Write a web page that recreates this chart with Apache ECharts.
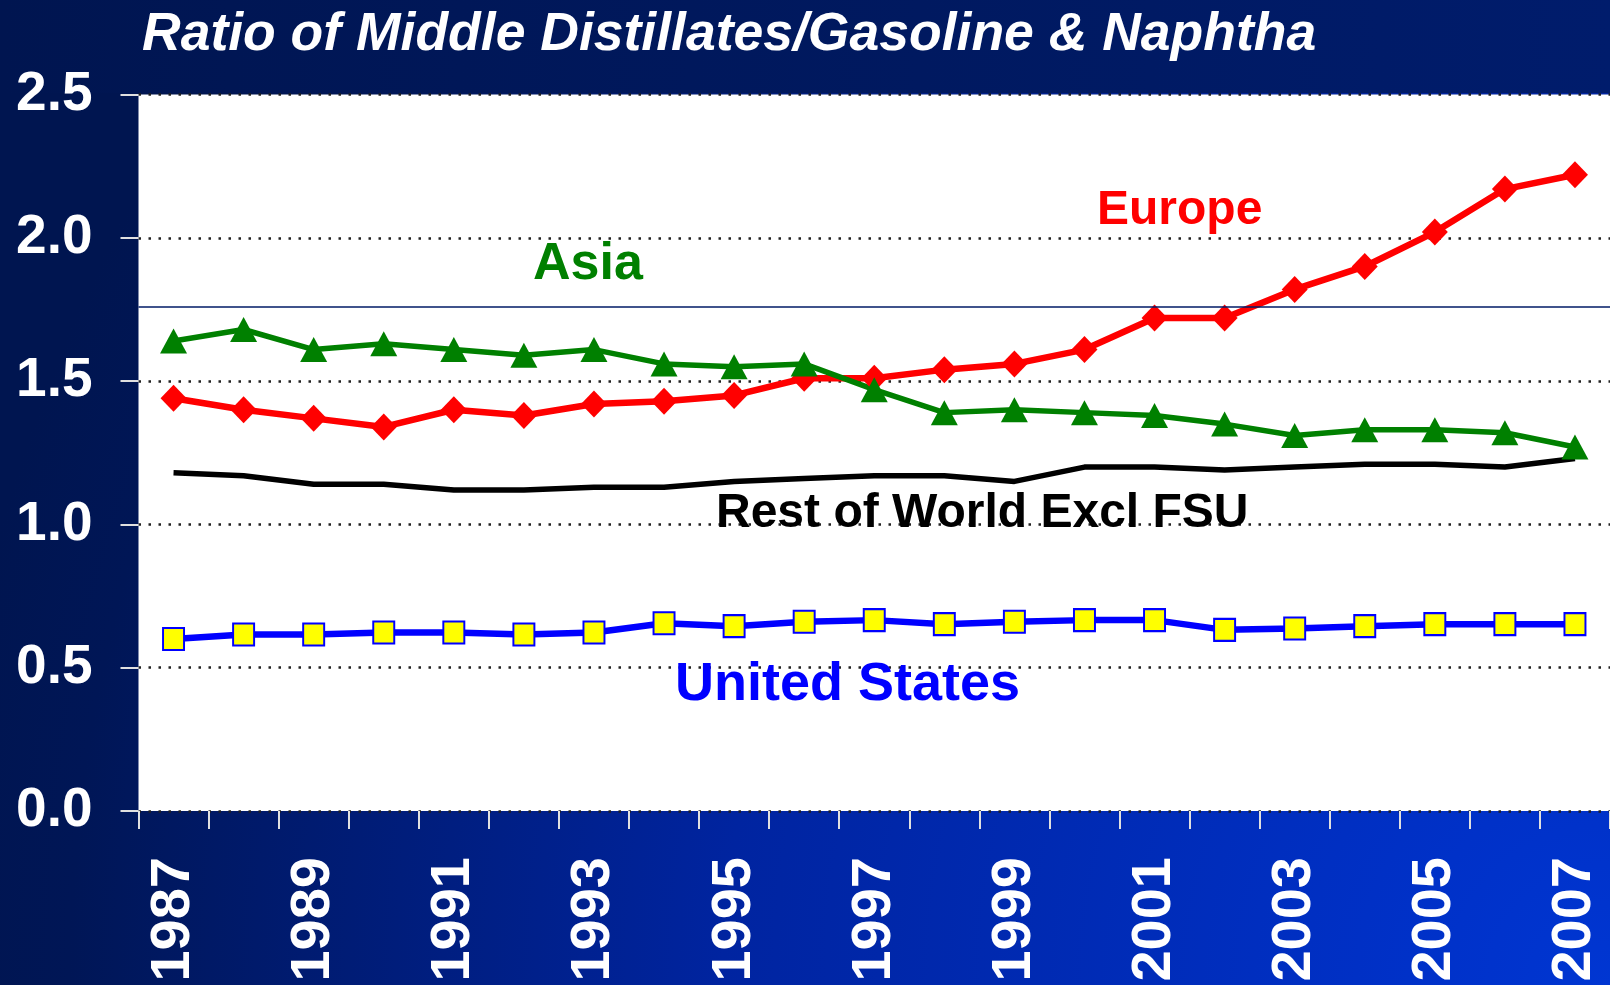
<!DOCTYPE html>
<html>
<head>
<meta charset="utf-8">
<script src="https://cdn.jsdelivr.net/npm/echarts@6/dist/echarts.min.js"></script>
<style>
  html, body { margin: 0; padding: 0; }
  #chart { width: 1610px; height: 985px; }
</style>
</head>
<body>
<div id="chart"></div>
<script>
var years = ['1987', '1988', '1989', '1990', '1991', '1992', '1993', '1994', '1995', '1996',
  '1997', '1998', '1999', '2000', '2001', '2002', '2003', '2004', '2005', '2006', '2007'];
var asia = [1.64, 1.68, 1.61, 1.63, 1.61, 1.59, 1.61, 1.56, 1.55, 1.56,
  1.47, 1.39, 1.40, 1.39, 1.38, 1.35, 1.31, 1.33, 1.33, 1.32, 1.27];
var europe = [1.44, 1.40, 1.37, 1.34, 1.40, 1.38, 1.42, 1.43, 1.45, 1.51,
  1.51, 1.54, 1.56, 1.61, 1.72, 1.72, 1.82, 1.90, 2.02, 2.17, 2.22];
var restOfWorld = [1.18, 1.17, 1.14, 1.14, 1.12, 1.12, 1.13, 1.13, 1.15, 1.16,
  1.17, 1.17, 1.15, 1.20, 1.20, 1.19, 1.20, 1.21, 1.21, 1.20, 1.23];
var unitedStates = [0.60, 0.616, 0.616, 0.623, 0.623, 0.616, 0.623, 0.655, 0.645, 0.66,
  0.666, 0.652, 0.66, 0.666, 0.666, 0.632, 0.637, 0.645, 0.652, 0.652, 0.652];
var refLine = [1.76];

var FONT = '"Liberation Sans", Arial, sans-serif';
var chart = echarts.init(document.getElementById('chart'));

// free-floating series names drawn as plain text
function label(text, x, y, size, color) {
  return {
    type: 'text',
    left: x,
    top: y,
    z: 50,
    silent: true,
    style: {
      text: text,
      fill: color,
      font: 'bold ' + size + 'px ' + FONT
    }
  };
}

var option = {
  animation: false,
  title: {
    text: 'Ratio of Middle Distillates/Gasoline & Naphtha',
    left: 142,
    top: 9,
    padding: 0,
    textStyle: {
      color: '#ffffff',
      fontStyle: 'italic',
      fontWeight: 'bold',
      fontSize: 53.5,
      fontFamily: FONT
    }
  },
  graphic: [
    {
      type: 'rect',
      z: -100,
      silent: true,
      shape: { x: 0, y: 0, width: 1610, height: 985 },
      style: {
        fill: {
          type: 'radial', x: 1, y: 1, r: 1.7,
          colorStops: [
            { offset: 0, color: '#0036d2' },
            { offset: 0.12, color: '#0031c8' },
            { offset: 0.53, color: '#0024a0' },
            { offset: 0.92, color: '#001656' },
            { offset: 1, color: '#001550' }
          ]
        }
      }
    },
    {
      type: 'rect',
      z: -99,
      silent: true,
      shape: { x: 0, y: 0, width: 1610, height: 93 },
      style: {
        fill: {
          type: 'linear', x: 0, y: 0, x2: 1, y2: 0,
          colorStops: [
            { offset: 0, color: '#001550' },
            { offset: 1, color: '#001c6c' }
          ]
        }
      }
    },
    label('Asia', 533, 239, 52, '#008000'),
    label('Europe', 1097, 187, 48, '#ff0000'),
    label('Rest of World Excl FSU', 716, 490, 48, '#000000'),
    label('United States', 675, 658, 54, '#0000ff')
  ],
  grid: {
    left: 138.5,
    top: 94.5,
    right: -13,
    bottom: 174,
    show: true,
    backgroundColor: '#ffffff',
    borderWidth: 0
  },
  xAxis: {
    type: 'category',
    data: years,
    boundaryGap: true,
    axisLine: { show: false },
    axisTick: {
      show: true,
      interval: 0,
      length: 18,
      lineStyle: { color: '#e0e0e0', width: 2 }
    },
    axisLabel: {
      interval: 1,
      rotate: 90,
      margin: 46,
      color: '#ffffff',
      fontSize: 56,
      fontWeight: 'bold',
      fontFamily: FONT
    },
    splitLine: { show: false }
  },
  yAxis: {
    type: 'value',
    min: 0,
    max: 2.5,
    interval: 0.5,
    axisLine: { show: false },
    axisTick: {
      show: true,
      length: 18,
      lineStyle: { color: '#e0e0e0', width: 2 }
    },
    axisLabel: {
      margin: 46,
      color: '#ffffff',
      fontSize: 55,
      fontWeight: 'bold',
      fontFamily: FONT,
      formatter: function (v) { return v.toFixed(1); }
    },
    splitLine: {
      show: true,
      lineStyle: { color: '#222222', width: 2.5, type: [2.5, 7.5] }
    }
  },
  series: [
    {
      name: 'Rest of World Excl FSU',
      type: 'line',
      data: restOfWorld,
      showSymbol: false,
      symbol: 'none',
      lineStyle: { color: '#000000', width: 5.5 },
      markLine: {
        silent: true,
        symbol: 'none',
        label: { show: false },
        lineStyle: { color: '#001a66', width: 1.5, type: 'solid' },
        data: refLine.map(function (v) { return { yAxis: v }; })
      }
    },
    {
      name: 'United States',
      type: 'line',
      data: unitedStates,
      symbol: 'rect',
      symbolSize: [21, 22],
      lineStyle: { color: '#0000ff', width: 6.5 },
      itemStyle: { color: '#ffff00', borderColor: '#0000ff', borderWidth: 2 }
    },
    {
      name: 'Europe',
      type: 'line',
      data: europe,
      symbol: 'diamond',
      symbolSize: [26, 27],
      lineStyle: { color: '#ff0000', width: 6.5 },
      itemStyle: { color: '#ff0000' }
    },
    {
      name: 'Asia',
      type: 'line',
      data: asia,
      symbol: 'triangle',
      symbolSize: [27, 25],
      lineStyle: { color: '#008000', width: 5.5 },
      itemStyle: { color: '#008000' }
    }
  ]
};

chart.setOption(option);
</script>
</body>
</html>
